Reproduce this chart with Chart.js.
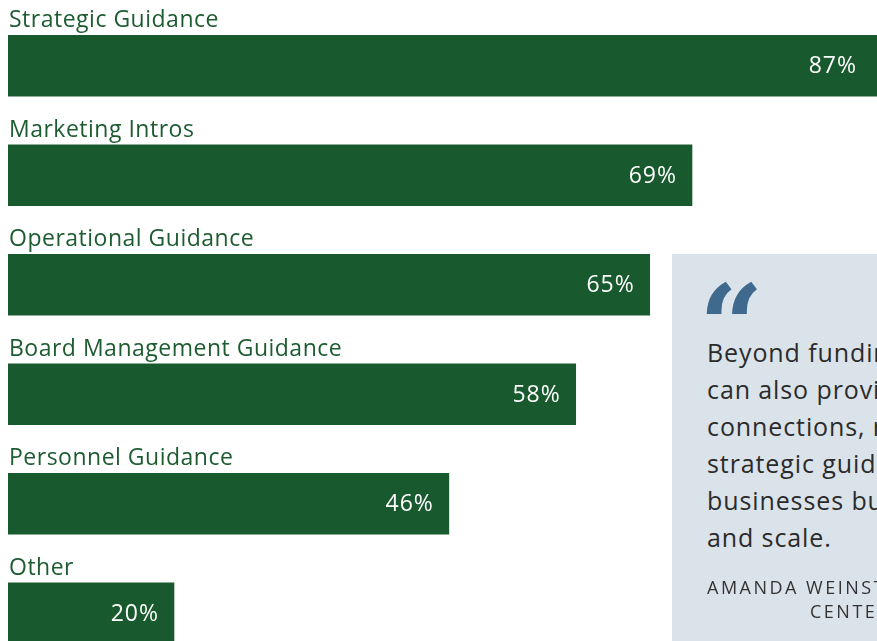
<!DOCTYPE html>
<html>
<head>
<meta charset="utf-8">
<script src="https://cdn.jsdelivr.net/npm/chart.js@4.4.1/dist/chart.umd.min.js"></script>
<style>
  html, body { margin: 0; padding: 0; background: #fff; overflow: hidden; width: 877px; height: 641px; }
  #wrap { position: absolute; left: 0; top: 0; width: 877px; height: 680px; }
  #quote {
    position: absolute; left: 672px; top: 254px; width: 400px; height: 420px;
    background: #dbe3ea; font-family: "Open Sans", sans-serif; color: #2b2b2b;
  }
  #quote .mark {
    position: absolute; left: 27px; top: 16px; font-size: 112px; font-weight: bold;
    line-height: 1; color: #3f6a8e; font-family: "DejaVu Serif", serif;
  }
  #quote .body {
    position: absolute; left: 35px; top: 80px; font-size: 25px; line-height: 37px;
    white-space: nowrap; letter-spacing: 0.9px;
  }
  #quote .who {
    position: absolute; left: 35px; top: 321px; font-size: 18px; line-height: 24px;
    white-space: nowrap; color: #333; letter-spacing: 2.5px;
  }
</style>
</head>
<body>
<div id="wrap"><canvas id="chart" width="877" height="680"></canvas></div>
<div id="quote">
  <div class="mark">&ldquo;</div>
  <div class="body">Beyond funding, investors<br>can also provide valuable<br>connections, resources and<br>strategic guidance to help<br>businesses build, grow<br>and scale.</div>
  <div class="who">AMANDA WEINSTEIN, DIRECTOR<br><span style="padding-left:103px">CENTER FOR ECONOMIC RESEARCH</span></div>
</div>
<script>
// категории и значения (в процентах)
const categories = [
  "Strategic Guidance",
  "Marketing Intros",
  "Operational Guidance",
  "Board Management Guidance",
  "Personnel Guidance",
  "Other",
];
const shares = [87, 69, 65, 58, 46, 20];

const barColor = "#185a2e";
const labelColor = "#1d5c31";
const font = '"Open Sans", sans-serif';

// подписи над полосами и значения внутри
const barLabels = {
  id: "barLabels",
  afterDatasetsDraw(chart) {
    const { ctx, chartArea } = chart;
    const meta = chart.getDatasetMeta(0);
    ctx.save();
    meta.data.forEach((bar, i) => {
      const top = bar.y - bar.height / 2;
      ctx.font = "23px " + font;
      ctx.letterSpacing = "0.5px";
      ctx.fillStyle = labelColor;
      ctx.textAlign = "left";
      ctx.textBaseline = "alphabetic";
      ctx.fillText(categories[i], 9, top - 8);

      ctx.letterSpacing = "1px";
      ctx.fillStyle = "#ffffff";
      ctx.textAlign = "right";
      ctx.textBaseline = "middle";
      const x = Math.min(bar.x - 15, chartArea.right - 20);
      ctx.fillText(shares[i] + "%", x, bar.y + 1);
    });
    ctx.restore();
  },
};

new Chart(document.getElementById("chart").getContext("2d"), {
  type: "bar",
  data: {
    labels: categories,
    datasets: [
      {
        data: shares,
        backgroundColor: barColor,
        borderWidth: 0,
        barThickness: 61,
      },
    ],
  },
  options: {
    indexAxis: "y",
    responsive: false,
    animation: false,
    layout: { padding: { left: 8, right: 0, top: 11, bottom: 12 } },
    scales: {
      x: { display: false, min: 4.3, max: 86.5, grid: { display: false } },
      y: { display: false, grid: { display: false } },
    },
    plugins: {
      legend: { display: false },
      tooltip: { enabled: false },
    },
  },
  plugins: [barLabels],
});
</script>
</body>
</html>
